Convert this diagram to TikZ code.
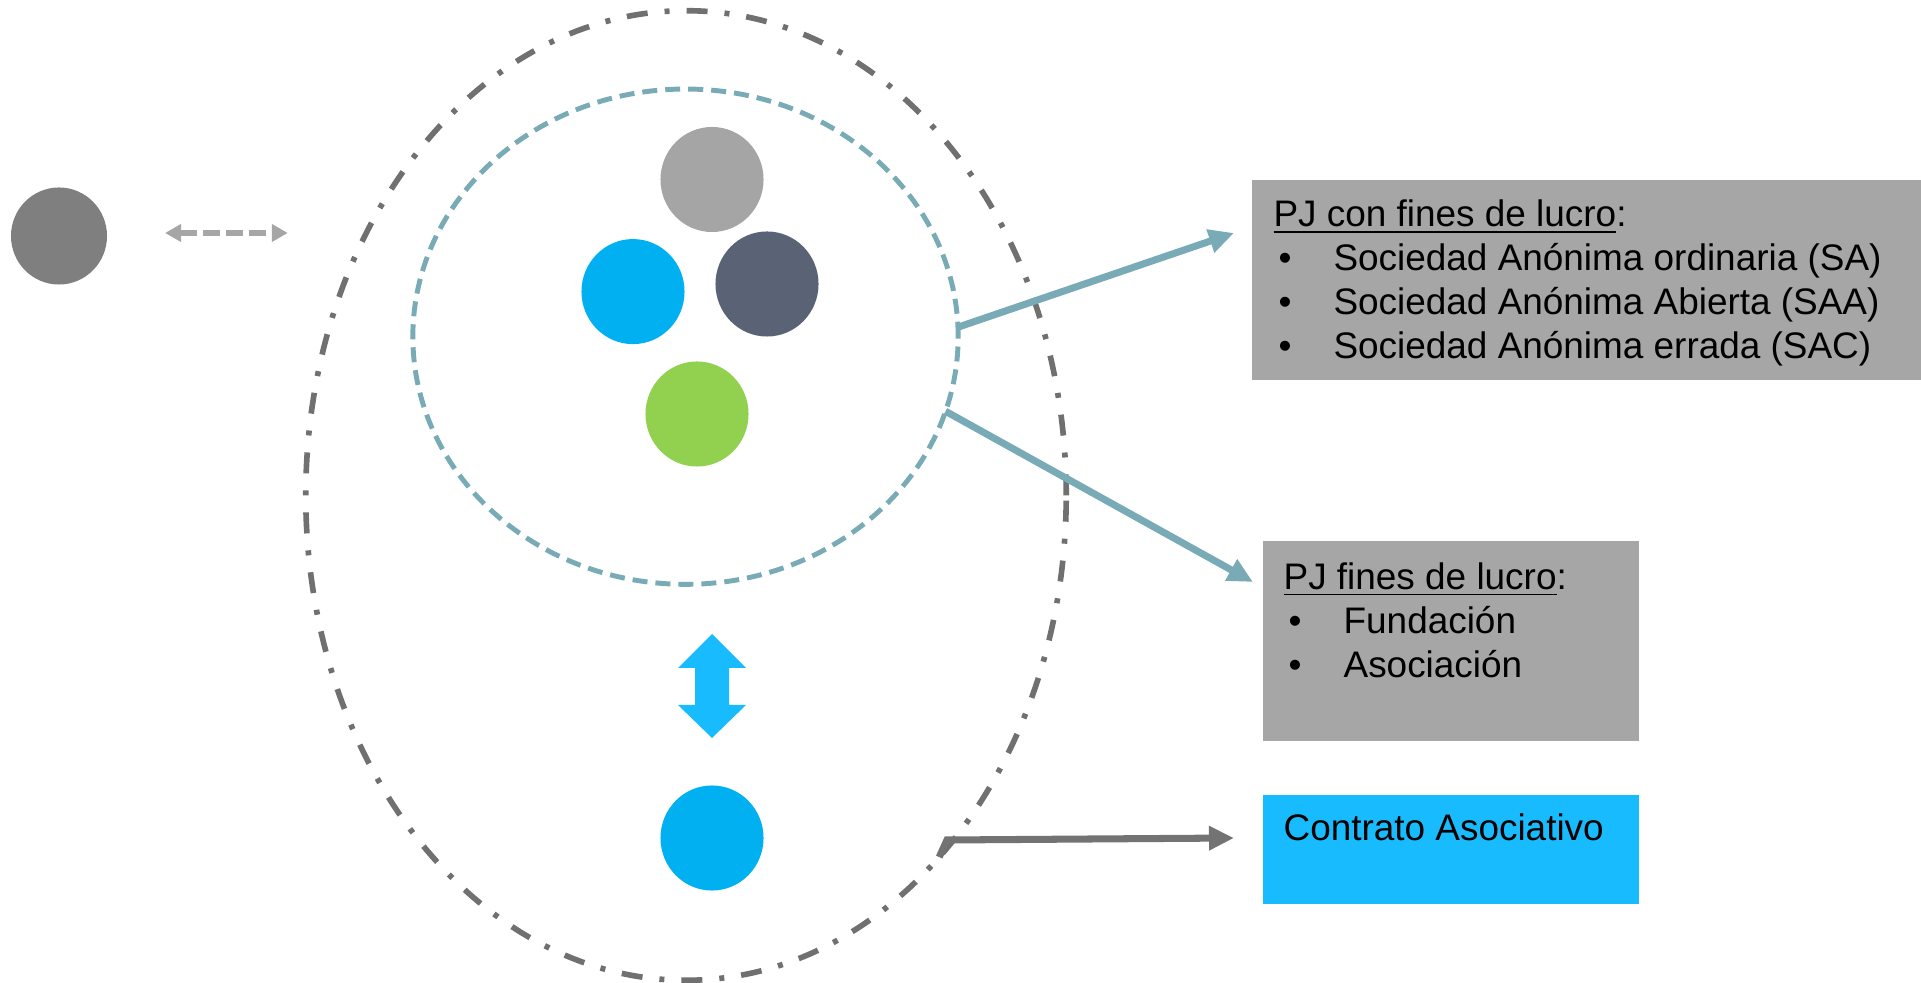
\documentclass[tikz,border=0pt]{standalone}
\usepackage{fontspec}
\setmainfont{Liberation Sans}
\usetikzlibrary{arrows.meta,shapes.geometric}

\definecolor{ringgray}{HTML}{707070}
\definecolor{ringteal}{HTML}{78ABB6}
\definecolor{pillgray}{HTML}{A5A5A5}
\definecolor{pillblue}{HTML}{00B0F0}
\definecolor{pillslate}{HTML}{5A6275}
\definecolor{pillgreen}{HTML}{92D050}
\definecolor{dotgray}{HTML}{7F7F7F}
\definecolor{boxgray}{HTML}{A6A6A6}
\definecolor{boxcyan}{HTML}{18BCFE}
\definecolor{arrowgray}{HTML}{737373}

\tikzset{
    pill/.style={ellipse, inner sep=0pt, outer sep=0pt, minimum width=1.03cm, minimum height=1.05cm},
    ring/.style={ellipse, inner sep=0pt, outer sep=0pt},
    panel/.style={rectangle, inner sep=0pt, outer sep=0pt},
    paneltext/.style={anchor=north west, inner sep=0pt, align=left, text=black,
        font=\fontsize{10.5pt}{12.5pt}\selectfont},
    link/.style={line width=2pt, -{Triangle[length=0.25cm, width=0.23cm]}}
}
\newcommand{\bul}{\makebox[0.6cm][l]{\hspace{0.05cm}\textbullet}}

\begin{document}
\begin{tikzpicture}[x=0.01cm, y=-0.01cm]
    \useasboundingbox (0,0) rectangle (1921,983);

    % Rings
    \node[ring, draw=ringgray, line width=1.6pt,
        dash pattern=on 0.21cm off 0.17cm on 0.05cm off 0.17cm,
        minimum width=7.6cm, minimum height=9.69cm] (outer) at (686,495.5) {};
    \node[ring, draw=ringteal, line width=1.4pt,
        dash pattern=on 0.15cm off 0.08cm,
        minimum width=5.45cm, minimum height=4.95cm] (inner) at (685.5,336.7) {};

    % Members
    \node[pill, fill=dotgray, minimum width=0.96cm, minimum height=0.97cm] (dot) at (59,236) {};
    \node[pill, fill=pillgray] (top) at (712,179.5) {};
    \node[pill, fill=pillblue] (blue) at (633,291.6) {};
    \node[pill, fill=pillslate] (slate) at (767,284) {};
    \node[pill, fill=pillgreen] (green) at (697,414) {};
    \node[pill, fill=pillblue] (bottom) at (712,838) {};

    % Up-down arrow
    \fill[boxcyan] (712,634) -- (746,668) -- (729,668) -- (729,705) -- (746,705)
        -- (712,738) -- (678,705) -- (695,705) -- (695,668) -- (678,668) -- cycle;

    % Panels
    \node[panel, fill=boxgray, minimum width=6.69cm, minimum height=2cm] (box1) at (1586.5,280) {};
    \node[panel, fill=boxgray, minimum width=3.76cm, minimum height=2cm] (box2) at (1451,641) {};
    \node[panel, fill=boxcyan, minimum width=3.76cm, minimum height=1.09cm] (box3) at (1451,849.5) {};

    \node[paneltext] (txt1) at ([xshift=0.21cm, yshift=-0.195cm]box1.north west)
        {\underline{PJ con fines de lucro}:\\
         \bul Sociedad Anónima ordinaria (SA)\\
         \bul Sociedad Anónima Abierta (SAA)\\
         \bul Sociedad Anónima errada (SAC)};
    \node[paneltext] (txt2) at ([xshift=0.2cm, yshift=-0.21cm]box2.north west)
        {\underline{PJ fines de lucro}:\\
         \bul Fundación\\
         \bul Asociación};
    \node[paneltext] (txt3) at ([xshift=0.2cm, yshift=-0.185cm]box3.north west)
        {Contrato Asociativo};

    % Arrow tips
    \coordinate (tip1) at (1234,233);
    \coordinate (tip2) at (1253,582);
    \coordinate (bend3) at (947,840);
    \coordinate (tip3) at (1234,838);

    % Links
    \draw[link, ringteal] (inner.2) -- (tip1);
    \draw[link, ringteal] (inner.-16) -- (tip2);
    \draw[link, arrowgray] (outer.-55.7) -- (bend3) -- (tip3);

    % Dashed double arrow
    \draw[boxgray, line width=1.5pt, dash pattern=on 0.17cm off 0.06cm,
        {Triangle[length=0.16cm, width=0.17cm]}-{Triangle[length=0.16cm, width=0.17cm]},
        shorten <=0.58cm, shorten >=0.18cm]
        ([yshift=0.03cm]dot.east) -- ([yshift=0.03cm]dot.east -| outer.west);
\end{tikzpicture}
\end{document}
